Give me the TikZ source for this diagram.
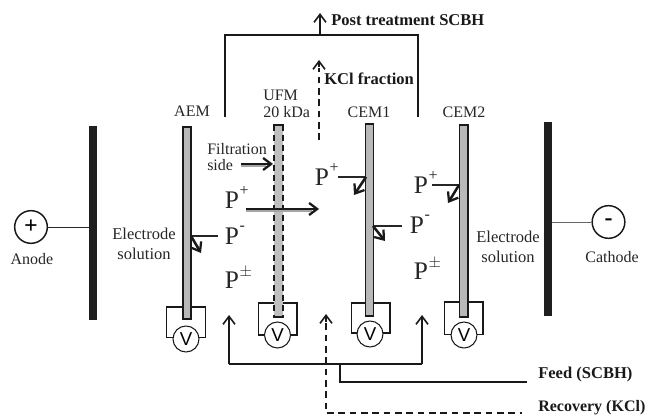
\documentclass[tikz,border=0pt]{standalone}
\usepackage{fontspec}
\setmainfont{Liberation Serif}
\newfontfamily\vfont{Liberation Sans}
\usetikzlibrary{arrows.meta}
\tikzset{
 x=0.75pt,y=-0.75pt,
 lab/.style={font=\fontsize{12}{14}\selectfont,text=black!85,inner sep=0pt,align=center},
 blab/.style={font=\bfseries\fontsize{12.4}{14}\selectfont,inner sep=0pt,anchor=west,text=black!90},
 pion/.style={font=\fontsize{19}{21}\selectfont,text=black!85,inner sep=0pt},
 psup/.style={font=\fontsize{12}{14}\selectfont,text=black!85,inner sep=0pt},
 flow/.style={draw=black!90,line width=1.2pt},
 flowtip/.style={-{Straight Barb[length=6pt,width=9pt,line width=1.2pt]}},
 ion/.style={draw=black!90,line width=1.9pt,-{Straight Barb[length=6pt,width=9pt,line width=1.7pt]}},
 ionshade/.style={draw=black!35,line width=2pt},
 dashline/.style={dash pattern=on 5pt off 3.5pt},
 thinl/.style={draw=black!85,line width=0.7pt},
 elec/.style={fill=black!88,draw=none,inner sep=0pt,minimum width=5.6pt},
 mem/.style={fill=black!28,draw=black!90,line width=1.1pt,inner sep=0pt},
 ufmem/.style={fill=black!25,draw=none,inner sep=0pt},
 pole/.style={circle,draw=black!90,line width=1.1pt,fill=white,minimum size=24.5pt,inner sep=0pt,font=\bfseries\fontsize{18}{18}\selectfont},
 volt/.style={circle,draw=black!90,line width=0.8pt,fill=white,minimum size=19.5pt,inner sep=0pt,font=\vfont\fontsize{14}{14}\selectfont},
 cbox/.style={draw=black!90,line width=0.8pt,inner sep=0pt}
}
\begin{document}
\begin{tikzpicture}
\useasboundingbox (0,0) rectangle (646,416);
% electrodes
\node[elec,minimum height=145.5pt] (anodeplate) at (92.8,223) {};
\node[elec,minimum height=145.5pt] (cathodeplate) at (548,219) {};
\node[pole] (anode) at (31,227) {+};
\node[pole] (cathode) at (608.5,222) {-};
\draw[thinl] (anode) -- (anode-|anodeplate.west);
\draw[thinl,draw=black!60] (cathode) -- (cathode-|cathodeplate.east);
\node[lab] (anodet) at (32,259) {Anode};
\node[lab] (cathodet) at (612,257) {Cathode};
\node[lab,font=\fontsize{12.4}{15}\selectfont] (esl) at (144,244) {Electrode\\solution};
\node[lab,font=\fontsize{12.4}{15}\selectfont] (esr) at (508,247) {Electrode\\solution};
% voltmeter boxes
\node[cbox,minimum width=28.7pt,minimum height=23.2pt] (b1) at (186,322.5) {};
\node[cbox,minimum width=29.2pt,minimum height=24pt] (b2) at (277.5,319) {};
\node[cbox,minimum width=29.2pt,minimum height=22.5pt] (b3) at (370.5,318) {};
\node[cbox,minimum width=29.2pt,minimum height=24.7pt] (b4) at (463.5,318.5) {};
% membranes
\node[mem,minimum width=5.9pt,minimum height=144pt] (aem) at (187,223) {};
\node[mem,minimum width=5.9pt,minimum height=144pt] (cem1) at (369.5,220) {};
\node[mem,minimum width=6.4pt,minimum height=144pt] (cem2) at (463.5,221) {};
\node[ufmem,minimum width=6.4pt,minimum height=144pt] (ufm) at (278.5,221) {};
\draw[draw=black!90,line width=1pt,dash pattern=on 5pt off 2.5pt] (ufm.north west) -- (ufm.south west);
\draw[draw=black!90,line width=1pt,dash pattern=on 5pt off 2.5pt] (ufm.north east) -- (ufm.south east);
\draw[draw=black!90,line width=1.4pt] ([xshift=-1pt]ufm.north west) -- ([xshift=1pt]ufm.north east);
\draw[draw=black!90,line width=1.4pt] ([xshift=-1pt]ufm.south west) -- ([xshift=1pt]ufm.south east);
\node[volt] (v1) at (186,339) {V};
\node[volt] (v2) at (277.5,335) {V};
\node[volt] (v3) at (370,334) {V};
\node[volt] (v4) at (464,335) {V};
% labels
\node[lab] (laem) at (192,111) {AEM};
\node[lab,align=left,anchor=west,font=\fontsize{12}{13}\selectfont] (lufm) at (263,104) {UFM\\20 kDa};
\node[lab] (lcem1) at (369,112) {CEM1};
\node[lab] (lcem2) at (464,112) {CEM2};
\node[lab,align=left,anchor=west,font=\fontsize{12}{12}\selectfont] (lfil) at (207,157) {Filtration\\side};
% top collector
\coordinate (ta) at (225,117);
\coordinate (tb) at (225,35);
\coordinate (tc) at (418,35);
\coordinate (td) at (418,117);
\coordinate (tm) at (320,35);
\coordinate (tu) at (320,13);
\draw[flow,line join=miter] (ta) -- (tb) -- (tc) -- (td);
\draw[flow,flowtip] (tm) -- (tu);
\node[blab] (post) at (331,20) {Post treatment SCBH};
\coordinate (ka) at (319,140);
\coordinate (kb) at (319,60);
\draw[flow,dashline] (ka) -- ([yshift=-6pt]kb);
\draw[flow,flowtip] ([yshift=-5pt]kb) -- (kb);
\node[blab] (kcl) at (324,79) {KCl fraction};
% feed
\coordinate (fa) at (229,315);
\coordinate (fb) at (229,364);
\coordinate (fc) at (422,364);
\coordinate (fd) at (422,315);
\coordinate (fe) at (340,364);
\coordinate (ff) at (340,382);
\coordinate (fg) at (527,382);
\draw[flow,flowtip] (fb) -- (fa);
\draw[flow] (fb) -- (fc);
\draw[flow,flowtip] (fc) -- (fd);
\draw[flow] (fe) -- (ff) -- (fg);
\node[blab] (feed) at (538,375) {Feed (SCBH)};
\coordinate (ra) at (326,314);
\coordinate (rb) at (326,413);
\coordinate (rc) at (522,413);
\draw[flow,dashline] ([yshift=-7pt]ra) -- (rb) -- (rc);
\draw[flow,flowtip] ([yshift=-6pt]ra) -- (ra);
\node[blab,font=\bfseries\fontsize{12}{14}\selectfont] (rec) at (538,408) {Recovery (KCl)};
% ions
\node[pion] (p1) at (232,200) {P};
\node[psup,anchor=west] at (p1.north east) {+};
\node[pion] (p2) at (232,236) {P};
\node[psup,anchor=west] at ([yshift=-1pt]p2.north east) {-};
\node[pion] (p3) at (232,280) {P};
\node[psup,anchor=west] at ([yshift=-1pt]p3.north east) {$\pm$};
\node[pion] (p4) at (322,177) {P};
\node[psup,anchor=west] at (p4.north east) {+};
\node[pion] (p5) at (417,225) {P};
\node[psup,anchor=west] at ([yshift=-1pt]p5.north east) {-};
\node[pion] (p6) at (421,185) {P};
\node[psup,anchor=west] at (p6.north east) {+};
\node[pion] (p7) at (421,271) {P};
\node[psup,anchor=west] at ([yshift=-1pt]p7.north east) {$\pm$};
% ion arrows
\coordinate (fs1) at (241,164); \coordinate (fs2) at (273,164);
\draw[ionshade] ([yshift=-1.5pt]fs1) -- ([yshift=-1.5pt,xshift=-5pt]fs2);
\draw[ion] (fs1) -- (fs2);
\coordinate (pa) at (246,209); \coordinate (pb) at (319,209);
\draw[ionshade] ([yshift=-1.5pt]pa) -- ([yshift=-1.5pt,xshift=-5pt]pb);
\draw[ion] (pa) -- (pb);
\coordinate (a1) at (191,236); \coordinate (a2) at (218,236); \coordinate (a3) at (201,253);
\draw[thinl,line width=1pt] (a2) -- (a1);
\draw[ion] (a1) -- (a3);
\coordinate (b1a) at (338,177); \coordinate (b1b) at (366,177); \coordinate (b1c) at (354,195);
\draw[thinl,line width=1pt] (b1a) -- (b1b);
\draw[ion] (b1b) -- (b1c);
\coordinate (c1a) at (402,226); \coordinate (c1b) at (373,226); \coordinate (c1c) at (385,241);
\draw[thinl,line width=1pt] (c1a) -- (c1b);
\draw[ion] (c1b) -- (c1c);
\coordinate (d1a) at (432,185); \coordinate (d1b) at (459,185); \coordinate (d1c) at (448,203);
\draw[thinl,line width=1pt] (d1a) -- (d1b);
\draw[ion] (d1b) -- (d1c);
\end{tikzpicture}
\end{document}
